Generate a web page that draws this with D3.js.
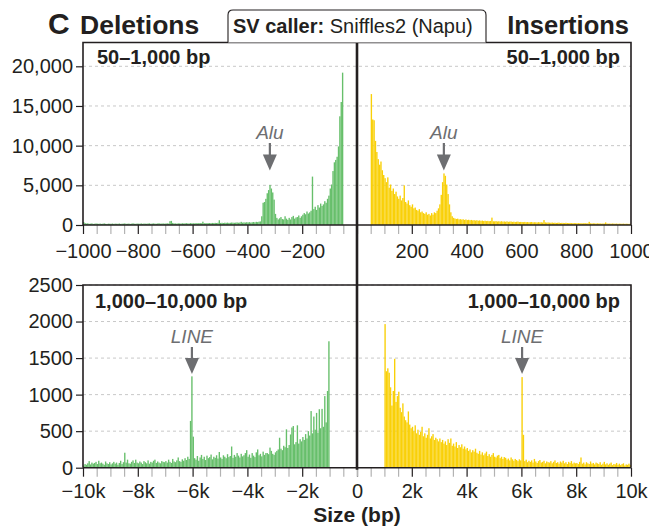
<!DOCTYPE html>
<html>
<head>
<meta charset="utf-8">
<script src="https://cdn.jsdelivr.net/npm/d3@7"></script>
<style>
  body { margin: 0; background: #fff; }
  svg { display: block; font-family: "Liberation Sans", Arial, Helvetica, sans-serif; }
</style>
</head>
<body>
<svg id="chart" width="649" height="527"></svg>
<script>
// ---- Histogram counts (Sniffles2, Napu) ----
// Small SVs: 5 bp bins. Deletions start at -1000, insertions at 50.
const smallBin = 5;
const delSmallStart = -1000;
const delSmall = [
  380,250,180,210,150,170,200,140,160,190,
  170,150,180,140,160,200,150,130,170,160,
  150,180,140,170,160,150,190,140,160,170,
  200,150,160,180,140,170,210,160,150,180,
  170,160,200,150,180,170,160,190,210,150,
  180,200,170,160,190,220,170,180,200,170,
  190,210,180,480,520,260,190,200,170,210,
  200,180,220,190,210,230,200,190,240,210,
  220,200,240,210,230,250,220,420,230,210,
  240,220,250,230,260,240,270,250,280,600,
  260,280,250,290,270,300,260,280,310,290,
  280,300,320,290,310,400,300,330,310,350,
  320,360,300,340,380,330,400,360,420,450,
  1100,2800,2900,3300,4000,4400,5050,4600,4100,3200,1400,900,
  700,850,1000,750,700,1100,800,650,900,700,1000,1150,800,950,1000,1200,900,1100,
  1300,1500,1350,1700,1450,1600,1800,
  6100,
  2000,2300,1900,2500,2200,2700,2400,2600,3000,2800,3300,
  3700,4600,5100,6800,7900,8200,8600,9900,13700,15500,19200
];
const insSmallStart = 50;
const insSmall = [
  16500,13300,13200,10600,9200,8300,7600,8000,6900,6300,
  5900,5400,6000,4700,5100,4300,4600,3900,4200,3600,
  3300,3700,3100,3400,5000,2900,2700,3100,2500,2300,
  2600,2100,2200,1900,1800,2000,1600,1700,1500,1400,
  1600,1300,1400,1200,1500,1300,1600,1500,1800,2100,
  2600,3800,5400,6500,6200,5100,3900,2600,1600,1100,
  900,820,760,800,700,740,680,720,640,700,
  620,660,600,640,580,610,560,600,540,580,520,560,
  500,540,490,520,480,510,930,470,
  460,490,440,470,430,480,420,450,410,460,400,430,440,390,420,380,410,430,370,390,
  380,360,390,350,370,340,360,380,330,350,340,320,360,330,340,310,620,330,300,320,
  300,280,310,270,290,260,280,300,250,270,260,240,280,250,230,260,240,220,250,230,
  220,240,210,230,200,220,240,200,210,400,220,190,210,200,180,210,190,200,170,190,
  180,330,190,170,180,160,190,170,160,180,150,170,160,150,170,140,160,150,140,160
];

// Large SVs: 50 bp bins. Deletions start at -10000, insertions at 1000.
const largeBin = 50;
const delLargeStart = -10000;
const delLarge = [
  30,50,40,60,90,45,70,55,65,80,50,95,60,70,55,40,85,60,50,75,
  45,60,80,55,70,40,65,95,50,75,205,70,110,60,55,80,100,65,110,70,
  60,85,70,50,90,75,60,100,55,80,70,95,110,65,85,70,60,90,80,75,
  90,70,110,80,65,120,85,75,100,140,90,80,115,95,130,105,150,120,640,1250,
  425,130,110,160,95,140,175,120,150,105,165,130,145,180,115,150,135,170,125,215,
  140,120,170,150,130,185,145,160,290,135,175,150,200,165,140,190,155,170,200,240,
  150,180,135,200,165,145,210,250,170,190,155,220,175,200,200,185,275,230,190,175,
  210,230,250,410,260,240,300,280,525,270,310,455,550,570,320,350,580,330,390,360,
  420,380,460,400,500,440,775,470,700,520,750,480,800,540,805,560,980,620,1050,1730
];
const insLargeStart = 1000;
const insLarge = [
  1965,1320,1360,1300,1100,850,1050,1490,900,980,1040,820,760,880,700,650,620,770,590,540,
  560,500,580,470,520,450,490,560,430,470,410,450,540,400,430,460,380,410,390,360,
  400,350,380,330,360,310,390,340,400,300,330,290,350,270,310,280,320,260,290,250,
  270,230,250,210,240,220,260,205,190,230,180,210,170,195,220,160,185,150,175,200,
  150,140,165,175,130,150,120,145,135,110,125,100,140,115,95,120,105,90,115,100,
  1240,450,90,110,75,95,80,100,70,120,85,65,90,105,70,80,95,60,85,75,
  70,90,60,80,100,65,75,55,85,70,95,60,75,50,80,65,90,55,70,60,
  65,50,80,140,55,70,45,75,60,50,85,55,65,45,70,60,50,75,40,55,
  80,45,60,40,55,70,35,50,45,65,40,55,35,50,60,30,45,40,55,35
];

// ---- Axis ticks and labels ----
const smallYTicks = [0, 5000, 10000, 15000, 20000];
const largeYTicks = [0, 500, 1000, 1500, 2000, 2500];
const smallDelTicks = [-1000, -800, -600, -400, -200];
const smallDelLabels = ["\u22121000", "\u2212800", "\u2212600", "\u2212400", "\u2212200"];
const smallInsTicks = [200, 400, 600, 800, 1000];
const smallInsLabels = ["200", "400", "600", "800", "1000"];
const largeDelTicks = [-10000, -8000, -6000, -4000, -2000, 0];
const largeDelLabels = ["\u221210k", "\u22128k", "\u22126k", "\u22124k", "\u22122k", "0"];
const largeInsTicks = [2000, 4000, 6000, 8000, 10000];
const largeInsLabels = ["2k", "4k", "6k", "8k", "10k"];
const smallMinorStep = 50;
const largeMinorStep = 500;

// Repeat-element annotations
const smallNotes = [{ side: "del", pos: -318, label: "Alu" }, { side: "ins", pos: 317, label: "Alu" }];
const largeNotes = [{ side: "del", pos: -6025, label: "LINE" }, { side: "ins", pos: 6025, label: "LINE" }];

// ---- Styling ----
const INK = "#231f20", GRID = "#c8c8c8", MINOR = "#b3b3b3", ARROW = "#6d6e71";
const GREEN = "#67bf6b", YELLOW = "#f9d008";
const TICK_FONT = 20;

const svg = d3.select("#chart");

// ---- Layout ----
const xLeft = 83, xMid = 357, xRight = 631;
const smallTop = 42.5, smallBase = 225;
const largeTop = 285, largeBase = 467.7;

const xSmallDel = d3.scaleLinear().domain([-1000, 0]).range([xLeft, xMid]);
const xSmallIns = d3.scaleLinear().domain([0, 1000]).range([xMid, xRight]);
const xLargeDel = d3.scaleLinear().domain([-10000, 0]).range([xLeft, xMid]);
const xLargeIns = d3.scaleLinear().domain([0, 10000]).range([xMid, xRight]);
const ySmall = d3.scaleLinear().domain([0, 23000]).range([smallBase, smallTop]);
const yLarge = d3.scaleLinear().domain([0, 2500]).range([largeBase, largeTop]);

// ---- Gridlines ----
function grid(yScale, ticks) {
  svg.append("g").selectAll("line")
    .data(ticks.filter(t => t > 0))
    .join("line")
    .attr("x1", xLeft).attr("x2", xRight)
    .attr("y1", d => yScale(d)).attr("y2", d => yScale(d))
    .attr("stroke", GRID).attr("stroke-width", 1)
    .attr("stroke-dasharray", "3,3");
}
grid(ySmall, smallYTicks);
grid(yLarge, largeYTicks);

// ---- Bars ----
function bars(values, start, width, xScale, yScale, color) {
  svg.append("g").selectAll("rect")
    .data(values)
    .join("rect")
    .attr("x", (d, i) => xScale(start + i * width))
    .attr("width", (d, i) => xScale(start + (i + 1) * width) - xScale(start + i * width))
    .attr("y", d => yScale(d))
    .attr("height", d => yScale(0) - yScale(d))
    .attr("fill", color);
}
bars(delSmall, delSmallStart, smallBin, xSmallDel, ySmall, GREEN);
bars(insSmall, insSmallStart, smallBin, xSmallIns, ySmall, YELLOW);
bars(delLarge, delLargeStart, largeBin, xLargeDel, yLarge, GREEN);
bars(insLarge, insLargeStart, largeBin, xLargeIns, yLarge, YELLOW);

// ---- X axes: light minor ticks plus labelled major ticks ----
function xAxis(scale, y, minorStep, majorTicks, labels, baselineOffset) {
  const [d0, d1] = scale.domain();
  const minor = d3.range(d0, d1 + minorStep / 2, minorStep).filter(v => !majorTicks.includes(v));
  svg.append("g").attr("transform", `translate(0,${y})`)
    .call(d3.axisBottom(scale).tickValues(minor).tickSize(9).tickFormat(""))
    .call(g => g.select(".domain").remove())
    .call(g => g.selectAll("line").attr("stroke", MINOR).attr("stroke-width", 1.2));
  svg.append("g").attr("transform", `translate(0,${y})`)
    .call(d3.axisBottom(scale).tickValues(majorTicks).tickSize(9).tickFormat((d, i) => labels[i]))
    .call(g => g.select(".domain").remove())
    .call(g => g.selectAll("line").attr("stroke", INK).attr("stroke-width", 1.2))
    .call(g => g.selectAll("text")
      .attr("y", baselineOffset).attr("dy", null)
      .attr("fill", INK).attr("font-size", TICK_FONT)
      .attr("font-family", "'Liberation Sans', Arial, sans-serif"));
}
xAxis(xSmallDel, smallBase, smallMinorStep, smallDelTicks, smallDelLabels, 33);
xAxis(xSmallIns, smallBase, smallMinorStep, smallInsTicks, smallInsLabels, 33);
xAxis(xLargeDel, largeBase, largeMinorStep, largeDelTicks, largeDelLabels, 30.5);
xAxis(xLargeIns, largeBase, largeMinorStep, largeInsTicks, largeInsLabels, 30.5);

// ---- Y axes ----
function yAxis(scale, ticks, fmt) {
  svg.append("g").attr("transform", `translate(${xLeft},0)`)
    .call(d3.axisLeft(scale).tickValues(ticks).tickSize(7).tickPadding(3).tickFormat(fmt))
    .call(g => g.select(".domain").remove())
    .call(g => g.selectAll("line").attr("stroke", INK).attr("stroke-width", 1.2))
    .call(g => g.selectAll("text")
      .attr("fill", INK).attr("font-size", TICK_FONT)
      .attr("font-family", "'Liberation Sans', Arial, sans-serif"));
}
yAxis(ySmall, smallYTicks, d3.format(","));
yAxis(yLarge, largeYTicks, d3.format("d"));

// ---- Panel frames ----
function frame(top, base) {
  const g = svg.append("g").attr("fill", "none").attr("stroke", INK).attr("stroke-width", 1.6);
  g.append("path").attr("d", `M${xLeft},${base}V${top}H${xRight}V${base}`);
  g.append("line").attr("x1", xLeft).attr("x2", xRight).attr("y1", base).attr("y2", base);
}
frame(smallTop, smallBase);
frame(largeTop, largeBase);
svg.append("line")
  .attr("x1", xMid).attr("x2", xMid)
  .attr("y1", smallTop).attr("y2", largeBase + 2)
  .attr("stroke", INK).attr("stroke-width", 2.6);

// ---- Size-range labels inside panels ----
function panelLabel(text, x, y, anchor) {
  svg.append("text").attr("x", x).attr("y", y)
    .attr("text-anchor", anchor)
    .attr("font-size", 20).attr("font-weight", "bold").attr("fill", INK)
    .text(text);
}
panelLabel("50\u20131,000 bp", 97, 64, "start");
panelLabel("50\u20131,000 bp", 620, 64, "end");
panelLabel("1,000\u201310,000 bp", 95, 308, "start");
panelLabel("1,000\u201310,000 bp", 620, 308, "end");

// ---- Repeat annotations (label + down arrow) ----
function annotate(x, textY, shaftTop, tip, label) {
  const g = svg.append("g");
  g.append("text").attr("x", x).attr("y", textY)
    .attr("text-anchor", "middle").attr("font-style", "italic")
    .attr("font-size", 19).attr("fill", ARROW).text(label);
  g.append("line").attr("x1", x).attr("x2", x)
    .attr("y1", shaftTop).attr("y2", tip - 8)
    .attr("stroke", ARROW).attr("stroke-width", 2.2);
  g.append("path")
    .attr("d", `M${x - 7},${tip - 16}L${x + 7},${tip - 16}L${x},${tip}Z`)
    .attr("fill", ARROW);
}
smallNotes.forEach(n => {
  const xs = n.side === "del" ? xSmallDel : xSmallIns;
  annotate(xs(n.pos), 139, 143, 170.5, n.label);
});
largeNotes.forEach(n => {
  const xs = n.side === "del" ? xLargeDel : xLargeIns;
  annotate(xs(n.pos), 343, 347, 374, n.label);
});

// ---- Header ----
svg.append("text").attr("x", 48).attr("y", 33.5)
  .attr("font-size", 30).attr("font-weight", "bold").attr("fill", INK).text("C");
svg.append("text").attr("x", 80).attr("y", 33.5)
  .attr("font-size", 26.5).attr("font-weight", "bold").attr("fill", INK).text("Deletions");
svg.append("text").attr("x", 629).attr("y", 33.5).attr("text-anchor", "end")
  .attr("font-size", 25.5).attr("font-weight", "bold").attr("fill", INK).text("Insertions");

const boxL = 228, boxR = 486, boxT = 10, r = 5;
svg.append("path")
  .attr("d", `M${boxL},${smallTop}V${boxT + r}Q${boxL},${boxT} ${boxL + r},${boxT}H${boxR - r}Q${boxR},${boxT} ${boxR},${boxT + r}V${smallTop}`)
  .attr("fill", "#fff").attr("stroke", INK).attr("stroke-width", 1.1);
const caller = svg.append("text").attr("x", 233).attr("y", 33)
  .attr("font-size", 20).attr("fill", INK);
caller.append("tspan").attr("font-weight", "bold").text("SV caller:");
caller.append("tspan").text(" Sniffles2 (Napu)");

// ---- X axis title ----
svg.append("text").attr("x", xMid).attr("y", 522).attr("text-anchor", "middle")
  .attr("font-size", 21).attr("font-weight", "bold").attr("fill", INK).text("Size (bp)");
</script>
</body>
</html>
